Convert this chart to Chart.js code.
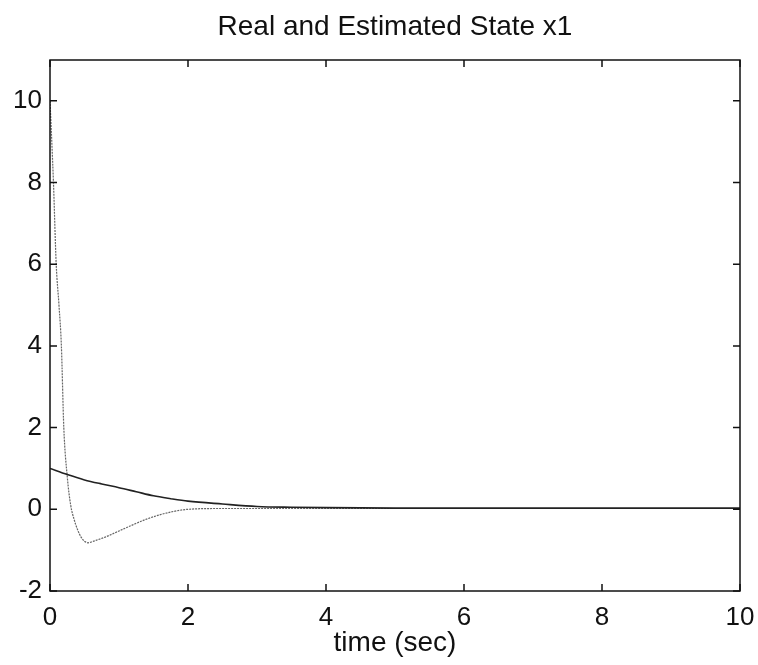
<!DOCTYPE html>
<html>
<head>
<meta charset="utf-8">
<script src="https://cdn.jsdelivr.net/npm/chart.js@4/dist/chart.umd.min.js"></script>
<style>
  html, body { margin: 0; padding: 0; background: #fff; }
  #wrap { width: 758px; height: 665px; }
</style>
</head>
<body>
<div id="wrap"><canvas id="c"></canvas></div>
<script>
// Данные
const realTime = [0, 0.25, 0.5, 0.75, 1, 1.25, 1.5, 1.75, 2, 2.5, 3, 3.5, 4, 5, 6, 7, 8, 9, 10];
const realX1 = [1.0, 0.85, 0.72, 0.62, 0.53, 0.43, 0.33, 0.26, 0.2, 0.13, 0.07, 0.05, 0.04, 0.03, 0.03, 0.03, 0.03, 0.03, 0.03];

const estTime = [0, 0.05, 0.09, 0.13, 0.165, 0.2, 0.25, 0.3, 0.35, 0.4, 0.45, 0.5, 0.55, 0.6, 0.7, 0.8, 1.0, 1.2, 1.4, 1.6, 1.8, 2.0, 2.5, 3, 4, 6, 8, 10];
const estX1 = [10, 8, 6, 5, 4, 2, 0.8, 0.1, -0.25, -0.5, -0.68, -0.78, -0.82, -0.8, -0.74, -0.68, -0.53, -0.38, -0.24, -0.13, -0.05, 0.0, 0.02, 0.02, 0.02, 0.02, 0.02, 0.02];

const xTicks = [0, 2, 4, 6, 8, 10];
const yTicks = [-2, 0, 2, 4, 6, 8, 10];

const chartTitle = 'Real and Estimated State x1';

const FONT = '"Liberation Sans", Arial, sans-serif';

// Рамка, внутренние засечки в стиле MATLAB и заголовок по центру области графика
const boxPlugin = {
    id: 'box',
    afterDatasetsDraw(chart) {
        const { ctx, chartArea: a, scales } = chart;
        ctx.save();
        ctx.strokeStyle = '#111';
        ctx.lineWidth = 1.5;
        ctx.strokeRect(a.left, a.top, a.right - a.left, a.bottom - a.top);
        const len = 7;
        xTicks.forEach(v => {
            const px = scales.x.getPixelForValue(v);
            ctx.beginPath();
            ctx.moveTo(px, a.bottom); ctx.lineTo(px, a.bottom - len);
            ctx.moveTo(px, a.top); ctx.lineTo(px, a.top + len);
            ctx.stroke();
        });
        yTicks.forEach(v => {
            const py = scales.y.getPixelForValue(v);
            ctx.beginPath();
            ctx.moveTo(a.left, py); ctx.lineTo(a.left + len, py);
            ctx.moveTo(a.right, py); ctx.lineTo(a.right - len, py);
            ctx.stroke();
        });

        // Заголовок
        ctx.fillStyle = '#111';
        ctx.font = '28px ' + FONT;
        ctx.textAlign = 'center';
        ctx.textBaseline = 'middle';
        ctx.fillText(chartTitle, (a.left + a.right) / 2, 27);
        ctx.restore();
    }
};

new Chart(document.getElementById('c'), {
    type: 'line',
    data: {
        datasets: [
            {
                label: 'Real x1',
                data: realTime.map((t, i) => ({ x: t, y: realX1[i] })),
                borderColor: '#222',
                borderWidth: 1.6,
                pointRadius: 0,
                cubicInterpolationMode: 'monotone',
                fill: false
            },
            {
                label: 'Estimated x1',
                data: estTime.map((t, i) => ({ x: t, y: estX1[i] })),
                borderColor: '#666',
                borderWidth: 1.2,
                borderDash: [2, 1],
                pointRadius: 0,
                cubicInterpolationMode: 'monotone',
                fill: false
            }
        ]
    },
    options: {
        responsive: true,
        maintainAspectRatio: false,
        animation: false,
        layout: { padding: { left: 0, right: 18, top: 60, bottom: 0 } },
        plugins: {
            legend: { display: false },
            tooltip: { enabled: false },
            title: { display: false }
        },
        scales: {
            x: {
                type: 'linear',
                min: 0,
                max: 10,
                afterBuildTicks: s => { s.ticks = xTicks.map(v => ({ value: v })); },
                afterFit: s => { s.height = 74; s.paddingLeft = 0; s.paddingRight = 0; },
                grid: { display: false, drawTicks: false },
                border: { display: false },
                ticks: {
                    color: '#111',
                    padding: 11,
                    font: { family: FONT, size: 26 }
                },
                title: {
                    display: true,
                    text: 'time (sec)',
                    color: '#111',
                    font: { family: FONT, size: 28 },
                    padding: { top: 0, bottom: 5 }
                }
            },
            y: {
                type: 'linear',
                min: -2,
                max: 11,
                afterBuildTicks: s => { s.ticks = yTicks.map(v => ({ value: v })); },
                afterFit: s => { s.width = 50; s.paddingTop = 0; s.paddingBottom = 0; },
                grid: { display: false, drawTicks: false },
                border: { display: false },
                ticks: {
                    color: '#111',
                    padding: 8,
                    font: { family: FONT, size: 26 }
                }
            }
        }
    },
    plugins: [boxPlugin]
});
</script>
</body>
</html>
